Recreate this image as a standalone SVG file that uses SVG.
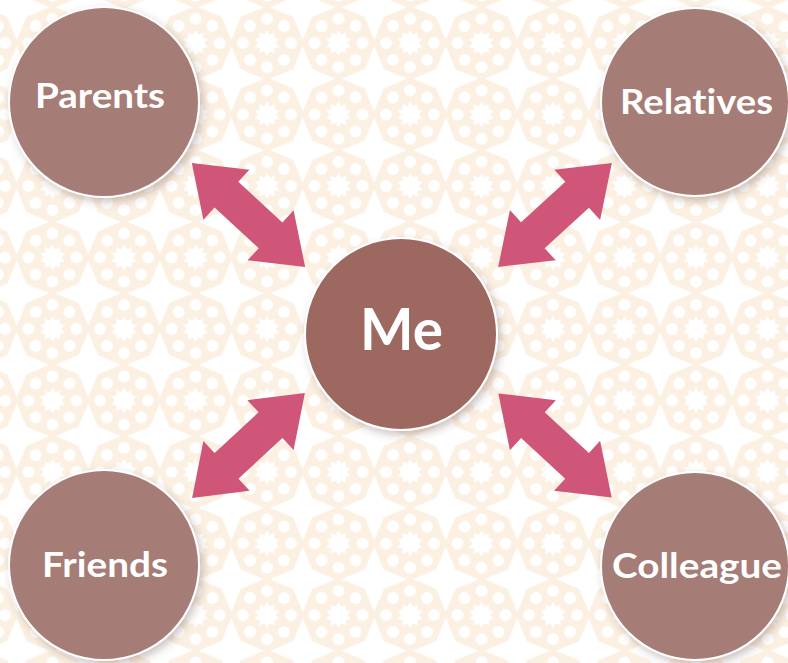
<svg xmlns="http://www.w3.org/2000/svg" xmlns:xlink="http://www.w3.org/1999/xlink" width="788" height="663" viewBox="0 0 788 663">
<style>
.node{fill:#A57B76;stroke:#FFFFFF;stroke-width:2;filter:url(#shadow)}
.center{fill:#9C6861}
.lbl{font-family:"Lato","Open Sans","Liberation Sans",sans-serif;font-weight:700;fill:#FFFFFF;text-anchor:middle;font-variant-ligatures:none}
.arrow{fill:#D05679}
.oct{fill:#FBF0E1}
.hole{fill:#FFFFFF}
</style>
<defs>
<filter id="shadow" x="-20%" y="-20%" width="150%" height="150%">
<feDropShadow dx="3" dy="4" stdDeviation="4" flood-color="#5a3a3a" flood-opacity="0.3"/>
</filter>
<g id="tile">
<polygon class="oct" points="37,0 26.16,26.16 0,37 -26.16,26.16 -37,0 -26.16,-26.16 0,-37 26.16,-26.16"/>
<g class="hole">
<circle cx="24" cy="0" r="6"/><circle cx="16.97" cy="16.97" r="6"/><circle cx="0" cy="24" r="6"/><circle cx="-16.97" cy="16.97" r="6"/>
<circle cx="-24" cy="0" r="6"/><circle cx="-16.97" cy="-16.97" r="6"/><circle cx="0" cy="-24" r="6"/><circle cx="16.97" cy="-16.97" r="6"/>
<polygon points="0,-13 2.78,-8.56 7.64,-10.52 7.28,-5.29 12.36,-4.02 9,0 12.36,4.02 7.28,5.29 7.64,10.52 2.78,8.56 0,13 -2.78,8.56 -7.64,10.52 -7.28,5.29 -12.36,4.02 -9,0 -12.36,-4.02 -7.28,-5.29 -7.64,-10.52 -2.78,-8.56"/>
</g>
</g>
<pattern id="bg" patternUnits="userSpaceOnUse" x="16.75" y="7.25" width="71.5" height="71.5">
<use xlink:href="#tile" x="35.75" y="35.75"/>
<use xlink:href="#tile" x="-35.75" y="35.75"/>
<use xlink:href="#tile" x="107.25" y="35.75"/>
<use xlink:href="#tile" x="35.75" y="-35.75"/>
<use xlink:href="#tile" x="35.75" y="107.25"/>
</pattern>
<path id="dbl" d="M-77,0 L-30,-34 L-30,-17.5 L30,-17.5 L30,-34 L77,0 L30,34 L30,17.5 L-30,17.5 L-30,34 Z"/>
</defs>
<rect x="0" y="0" width="788" height="663" fill="#FFFFFF"/>
<rect x="0" y="0" width="788" height="663" fill="url(#bg)"/>
<g id="connectors">
<use class="arrow" xlink:href="#dbl" transform="translate(248.5,215) rotate(42.6)"/>
<use class="arrow" xlink:href="#dbl" transform="translate(555,215) rotate(-42.4)"/>
<use class="arrow" xlink:href="#dbl" transform="translate(248.5,445.5) rotate(-42.9)"/>
<use class="arrow" xlink:href="#dbl" transform="translate(555,445.5) rotate(42.6)"/>
</g>
<g id="parents">
<circle class="node" cx="104" cy="102" r="95"/>
<text class="lbl" x="100" y="108" font-size="34" textLength="130" lengthAdjust="spacingAndGlyphs">Parents</text>
</g>
<g id="relatives">
<circle class="node" cx="695" cy="102" r="94"/>
<text class="lbl" x="696.5" y="114" font-size="34" textLength="153" lengthAdjust="spacingAndGlyphs">Relatives</text>
</g>
<g id="me">
<circle class="node center" cx="401" cy="334" r="96"/>
<text class="lbl" x="401.5" y="350" font-size="58" textLength="83" lengthAdjust="spacingAndGlyphs">Me</text>
</g>
<g id="friends">
<circle class="node" cx="104" cy="565" r="95"/>
<text class="lbl" x="105" y="577" font-size="34" textLength="126" lengthAdjust="spacingAndGlyphs">Friends</text>
</g>
<g id="colleague">
<circle class="node" cx="695" cy="566" r="94"/>
<text class="lbl" x="697" y="578" font-size="34" textLength="170" lengthAdjust="spacingAndGlyphs">Colleague</text>
</g>
</svg>
